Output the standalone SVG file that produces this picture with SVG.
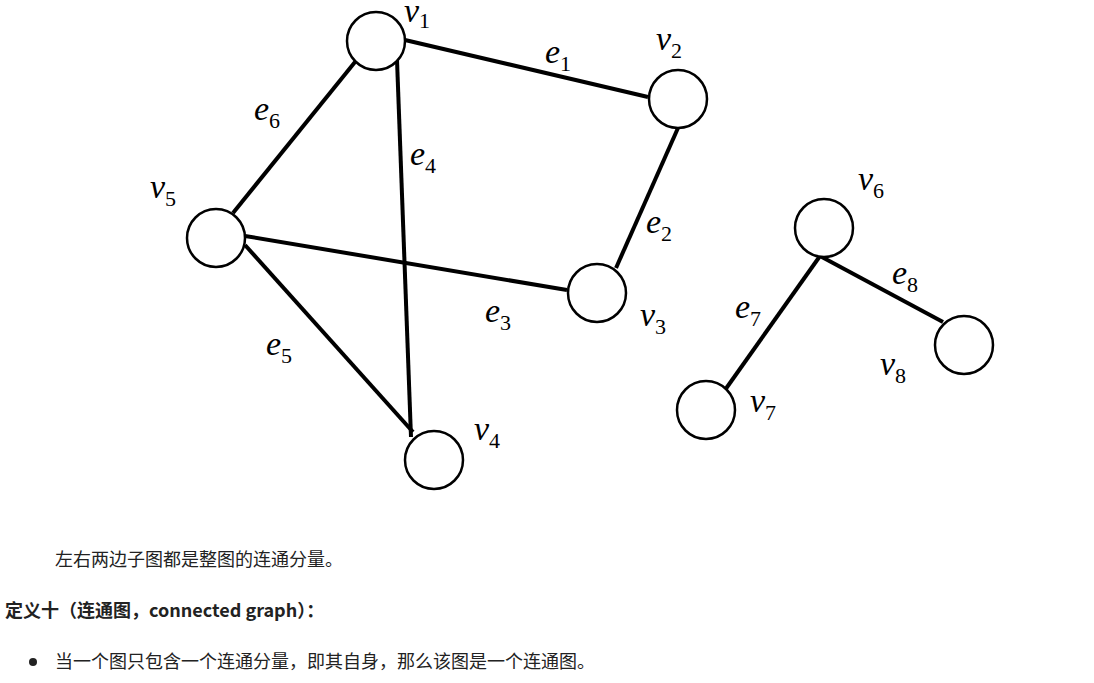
<svg xmlns="http://www.w3.org/2000/svg" width="1094" height="683" viewBox="0 0 1094 683">
<style>
.n{fill:#fff;stroke:#000;stroke-width:2.5}
.e{stroke:#000;stroke-width:4;fill:none}
.m{font-family:"Liberation Serif",serif;font-style:italic;font-size:34px;fill:#000}
.s{font-size:22px;font-style:normal}
.t{font-family:"Noto Sans CJK SC","Noto Sans",sans-serif;font-size:18px;fill:#222}
</style>
<rect width="1094" height="683" fill="#fff"/>
<g id="edges">
<line class="e" x1="405" y1="40" x2="648" y2="97"/>
<line class="e" x1="678" y1="128" x2="616" y2="268"/>
<line class="e" x1="245" y1="236" x2="567" y2="290"/>
<line class="e" x1="355" y1="62" x2="233" y2="213"/>
<line class="e" x1="397" y1="60" x2="411" y2="437"/>
<line class="e" x1="245" y1="245" x2="413" y2="432"/>
<line class="e" x1="820" y1="256" x2="725" y2="390"/>
<line class="e" x1="820" y1="256" x2="943" y2="322"/>
<text class="m" x="545" y="63">e<tspan class="s" dy="8">1</tspan></text>
<text class="m" x="646" y="233">e<tspan class="s" dy="8">2</tspan></text>
<text class="m" x="485" y="322">e<tspan class="s" dy="8">3</tspan></text>
<text class="m" x="410" y="165">e<tspan class="s" dy="8">4</tspan></text>
<text class="m" x="266" y="355">e<tspan class="s" dy="8">5</tspan></text>
<text class="m" x="254" y="120">e<tspan class="s" dy="8">6</tspan></text>
<text class="m" x="735" y="318">e<tspan class="s" dy="8">7</tspan></text>
<text class="m" x="892" y="284">e<tspan class="s" dy="8">8</tspan></text>
</g>
<g id="v1"><circle class="n" cx="376" cy="41" r="29"/><text class="m" x="404" y="22">v<tspan class="s" dy="6">1</tspan></text></g>
<g id="v2"><circle class="n" cx="678" cy="99" r="29"/><text class="m" x="656" y="50">v<tspan class="s" dy="8">2</tspan></text></g>
<g id="v3"><circle class="n" cx="597" cy="293" r="29"/><text class="m" x="640" y="326">v<tspan class="s" dy="8">3</tspan></text></g>
<g id="v4"><circle class="n" cx="434" cy="460" r="29"/><text class="m" x="474" y="440">v<tspan class="s" dy="8">4</tspan></text></g>
<g id="v5"><circle class="n" cx="216" cy="238" r="29"/><text class="m" x="150" y="198">v<tspan class="s" dy="8">5</tspan></text></g>
<g id="v6"><circle class="n" cx="824" cy="228" r="29"/><text class="m" x="858" y="190">v<tspan class="s" dy="8">6</tspan></text></g>
<g id="v7"><circle class="n" cx="706" cy="410" r="29"/><text class="m" x="750" y="412">v<tspan class="s" dy="8">7</tspan></text></g>
<g id="v8"><circle class="n" cx="964" cy="345" r="29"/><text class="m" x="880" y="375">v<tspan class="s" dy="8">8</tspan></text></g>
<text class="t" x="55" y="566">左右两边子图都是整图的连通分量。</text>
<text class="t" x="5" y="617" font-weight="bold">定义十（连通图，connected graph）：</text>
<circle cx="33" cy="662" r="4" fill="#222"/>
<text class="t" x="55" y="668">当一个图只包含一个连通分量，即其自身，那么该图是一个连通图。</text>
</svg>
